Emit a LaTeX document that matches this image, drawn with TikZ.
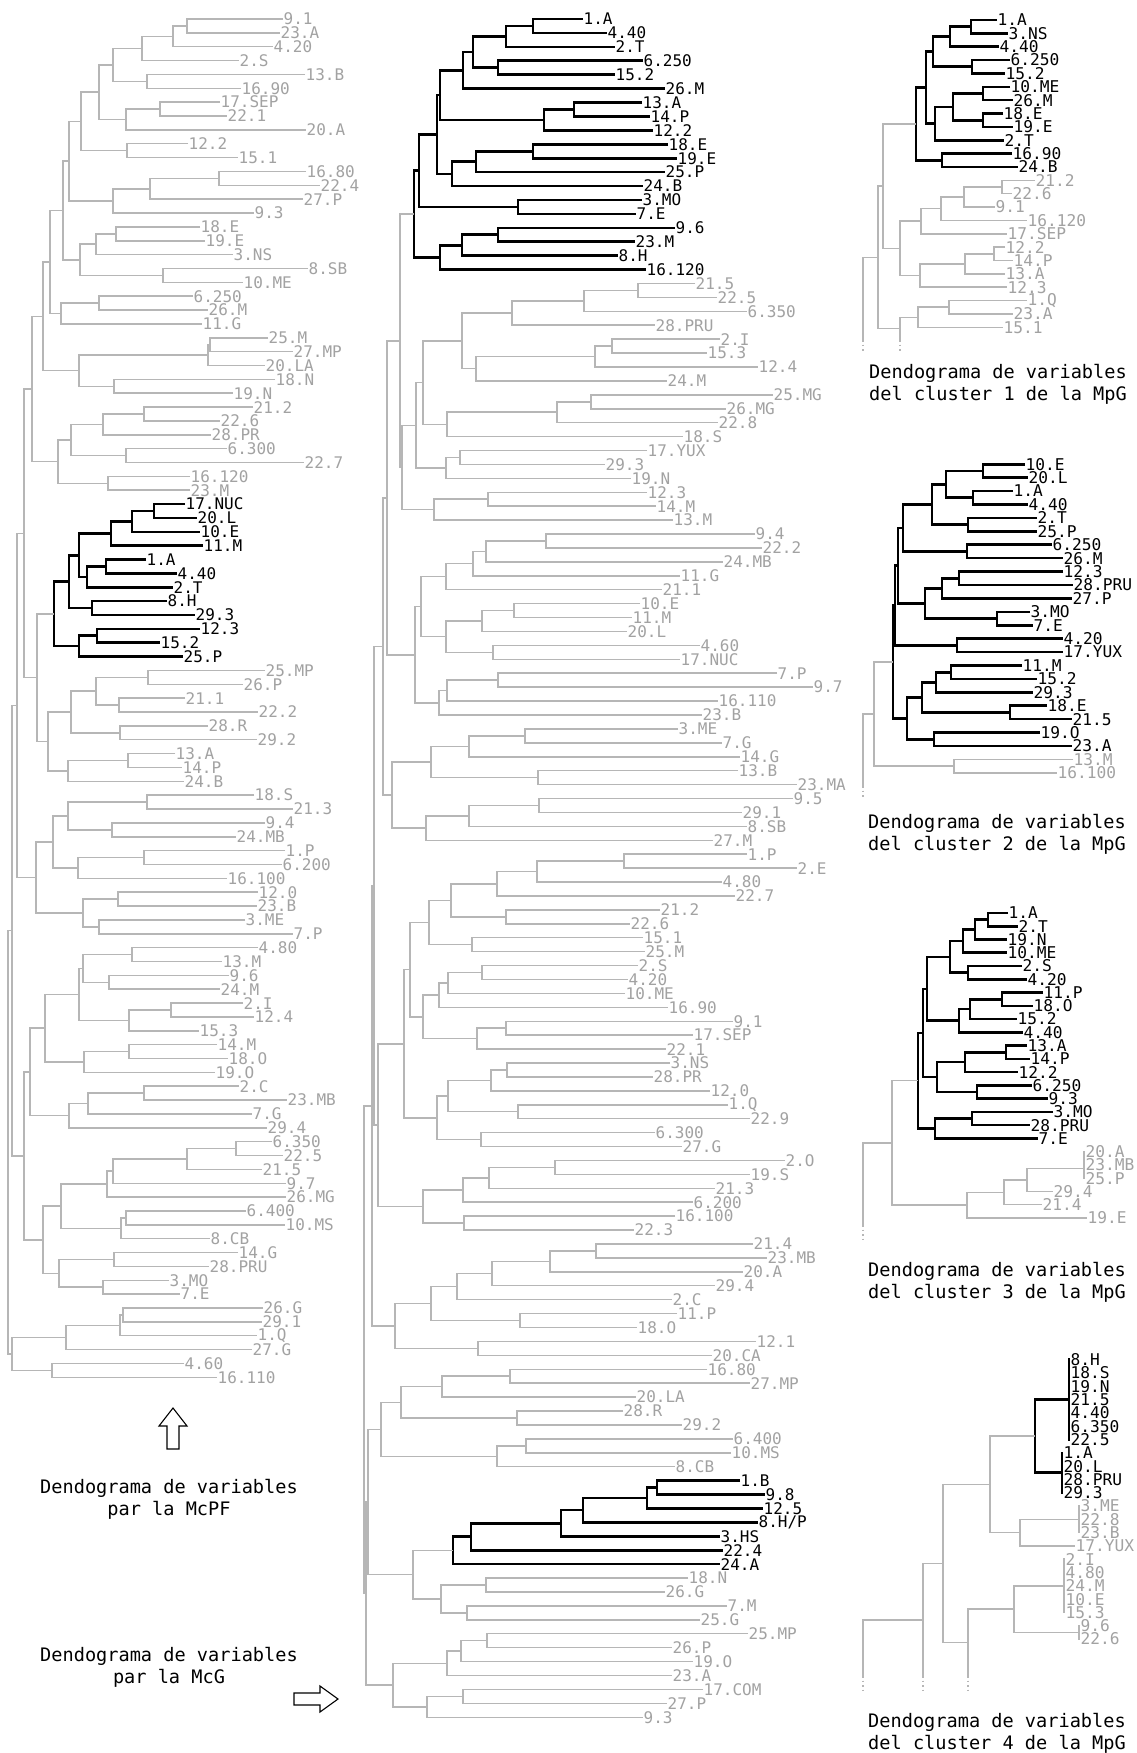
\documentclass[tikz,border=0pt]{standalone}
\usepackage{fontspec}
\newfontfamily\dmono{DejaVu Sans Mono}
\usepackage{tikz}
\definecolor{LineG}{RGB}{182,182,182}
\definecolor{TextG}{RGB}{162,162,162}
\newcommand{\labfont}{\dmono\fontsize{16}{16}\selectfont}
\newcommand{\smlfont}{\dmono\fontsize{16.2}{16}\selectfont}
\newcommand{\capfont}{\dmono\fontsize{18.6}{22}\selectfont}
% leaf: coordinate at the end of its branch, label to its right
\newcommand{\dleaf}[5][gtxt]{%
  \coordinate (#2#3) at ({#4},{\ybase+(#3-1)*\ystep});
  \node[#1] (#2#3t) at (#2#3) {#5};}
% merge two branches at abscissa #3
\newcommand{\dmerge}[5][gline]{%
  \path (#4) -- (#5) coordinate[pos=.5] (mtmp);
  \coordinate (#2) at (#3,0 |- mtmp);
  \draw[#1] (#4) -- (#4 -| #2) -- (#5 -| #2) -- (#5);}

\begin{document}
\begin{tikzpicture}[x=1pt,y=-1pt,
  gline/.style={draw=LineG,line width=1.5pt},
  bline/.style={draw=black,line width=2.6pt},
  gtxt/.style={anchor=west,inner sep=0.5pt,text=TextG,font=\labfont},
  btxt/.style={gtxt,text=black},
  capt/.style={align=center,inner sep=0pt,font=\capfont},
  hollow/.style={draw=black,line width=1.1pt,line join=miter},
  cut/.style={gline,dash pattern=on 1.5pt off 3pt}]
\fill[white] (0,0) rectangle (1136,1753);
\path[use as bounding box] (0,0) rectangle (1136,1753);

% ---- dendrogram McPF (left)
\def\ybase{19}\def\ystep{13.86}
\foreach \ii/\xx/\lab in {1/283/9.1, 2/280/23.A, 3/273/4.20, 4/239/2.S, 5/305/13.B,
  6/241/16.90, 7/220/17.SEP, 8/227/22.1, 9/306/20.A, 10/188/12.2, 11/238/15.1,
  12/306/16.80, 13/320/22.4, 14/303/27.P, 15/254/9.3, 16/200/18.E, 17/205/19.E,
  18/233/3.NS, 19/308/8.SB, 20/243/10.ME, 21/193/6.250, 22/208/26.M, 23/202/11.G,
  24/268/25.M, 25/293/27.MP, 26/265/20.LA, 27/275/18.N, 28/233/19.N, 29/253/21.2,
  30/220/22.6, 31/211/28.PR, 32/227/6.300, 33/304/22.7, 34/190/16.120, 35/190/23.M,
  48/265/25.MP, 49/243/26.P, 50/185/21.1, 51/258/22.2, 52/208/28.R, 53/257/29.2,
  54/175/13.A, 55/182/14.P, 56/184/24.B, 57/254/18.S, 58/293/21.3, 59/265/9.4,
  60/236/24.MB, 61/285/1.P, 62/282/6.200, 63/227/16.100, 64/258/12.0, 65/257/23.B,
  66/245/3.ME, 67/293/7.P, 68/258/4.80, 69/222/13.M, 70/229/9.6, 71/220/24.M,
  72/243/2.I, 73/254/12.4, 74/199/15.3, 75/217/14.M, 76/228/18.O, 77/215/19.O,
  78/239/2.C, 79/287/23.MB, 80/252/7.G, 81/267/29.4, 82/272/6.350, 83/283/22.5,
  84/262/21.5, 85/286/9.7, 86/286/26.MG, 87/246/6.400, 88/285/10.MS, 89/210/8.CB,
  90/238/14.G, 91/209/28.PRU, 92/169/3.MO, 93/180/7.E, 94/263/26.G, 95/262/29.1,
  96/257/1.Q, 97/252/27.G, 98/184/4.60, 99/217/16.110}
  {\dleaf{l}{\ii}{\xx}{\lab}}
\foreach \ii/\xx/\lab in {36/185/17.NUC, 37/197/20.L, 38/200/10.E, 39/203/11.M,
  40/146/1.A, 41/177/4.40, 42/173/2.T, 43/167/8.H, 44/195/29.3, 45/200/12.3,
  46/160/15.2, 47/183/25.P}
  {\dleaf[btxt]{l}{\ii}{\xx}{\lab}}
\foreach \nm/\xx/\ca/\cb in {la1/187/l1/l2, la2/173/la1/l3, la3/142/la2/l4,
  la4/147/l5/l6, la5/113/la3/la4, la6/160/l7/l8, la7/126/la6/l9, la8/99/la5/la7,
  la9/127/l10/l11, la10/81/la8/la9, la11/219/l12/l13, la12/150/la11/l14,
  la13/113/la12/l15, la14/69/la10/la13, la15/116/l16/l17, la16/96/la15/l18,
  la17/163/l19/l20, la18/80/la16/la17, la19/63/la14/la18, la20/99/l21/l22,
  la21/61/la20/l23, la22/50/la19/la21, la23/210/l24/l25, la24/208/la23/l26,
  la25/114/l27/l28, la26/79/la24/la25, la27/43/la22/la26, la28/144/l29/l30,
  la29/103/la28/l31, la30/126/l32/l33, la31/71/la29/la30, la32/108/l34/l35,
  la33/58/la31/la32, la34/32/la27/la33}
  {\dmerge{\nm}{\xx}{\ca}{\cb}}
\foreach \nm/\xx/\ca/\cb in {lb1/154/l36/l37, lb2/132/lb1/l38, lb3/111/lb2/l39,
  lb4/106/l40/l41, lb5/87/lb4/l42, lb6/79/lb3/lb5, lb7/92/l43/l44, lb8/69/lb6/lb7,
  lb9/97/l45/l46, lb10/79/lb9/l47, lb11/54/lb8/lb10}
  {\dmerge[bline]{\nm}{\xx}{\ca}{\cb}}
\foreach \nm/\xx/\ca/\cb in {lc1/148/l48/l49, lc2/119/l50/l51, lc3/96/lc1/lc2,
  lc4/120/l52/l53, lc5/71/lc3/lc4, lc6/128/l54/l55, lc7/68/lc6/l56, lc8/48/lc5/lc7,
  lc9/37/lb11/lc8, ld1/24/la34/lc9, lc10/147/l57/l58, lc11/112/l59/l60,
  lc12/68/lc10/lc11, lc13/144/l61/l62, lc14/78/lc13/l63, lc15/53/lc12/lc14,
  lc16/118/l64/l65, lc17/99/l66/l67, lc18/83/lc16/lc17, lc19/36/lc15/lc18,
  ld2/17/ld1/lc19, le1/132/l68/l69, le2/109/l70/l71, le3/83/le1/le2,
  le4/171/l72/l73, le5/129/le4/l74, le6/79/le3/le5, le7/129/l75/l76,
  le8/84/le7/l77, le9/45/le6/le8, le10/144/l78/l79, le11/88/le10/l80,
  le12/69/le11/l81, le13/30/le9/le12, le14/236/l82/l83, le15/187/le14/l84,
  le16/113/le15/l85, le17/107/le16/l86, le18/126/l87/l88, le19/121/le18/l89,
  le20/61/le17/le19, le21/114/l90/l91, le22/103/l92/l93, le23/59/le21/le22,
  le24/43/le20/le23, le25/24/le13/le24, ld3/12/ld2/le25, lf1/123/l94/l95,
  lf2/120/lf1/l96, lf3/66/lf2/l97, lf4/52/l98/l99, lf5/12/lf3/lf4, ld4/8/ld3/lf5}
  {\dmerge{\nm}{\xx}{\ca}{\cb}}

% ---- dendrogram McG (middle)
\def\ybase{19}\def\ystep{13.92}
\foreach \ii/\xx/\lab in {1/583/1.A, 2/607/4.40, 3/615/2.T, 4/643/6.250, 5/615/15.2,
  6/665/26.M, 7/642/13.A, 8/650/14.P, 9/653/12.2, 10/668/18.E, 11/677/19.E,
  12/665/25.P, 13/643/24.B, 14/642/3.MO, 15/636/7.E, 16/675/9.6, 17/635/23.M,
  18/618/8.H, 19/646/16.120, 106/740/1.B, 107/765/9.8, 108/763/12.5,
  110/720/3.HS, 111/723/22.4, 112/720/24.A}
  {\dleaf[btxt]{m}{\ii}{\xx}{\lab}}
\dleaf[btxt]{m}{109}{758}{8.H/P}
\foreach \ii/\xx/\lab in {20/695/21.5, 21/717/22.5, 22/747/6.350, 23/655/28.PRU,
  24/720/2.I, 25/707/15.3, 26/758/12.4, 27/667/24.M, 28/773/25.MG, 29/726/26.MG,
  30/718/22.8, 31/683/18.S, 32/647/17.YUX, 33/605/29.3, 34/631/19.N, 35/647/12.3,
  36/656/14.M, 37/673/13.M, 38/755/9.4, 39/762/22.2, 40/723/24.MB, 41/680/11.G,
  42/662/21.1, 43/640/10.E, 44/632/11.M, 45/627/20.L, 46/700/4.60, 47/680/17.NUC,
  48/777/7.P, 49/813/9.7, 50/718/16.110, 51/702/23.B, 52/678/3.ME, 53/722/7.G,
  54/740/14.G, 55/738/13.B, 56/797/23.MA, 57/793/9.5, 58/742/29.1, 59/747/8.SB,
  60/713/27.M, 61/747/1.P, 62/797/2.E, 63/722/4.80, 64/735/22.7, 65/660/21.2,
  66/630/22.6, 67/643/15.1, 68/645/25.M, 69/638/2.S, 70/628/4.20, 71/625/10.ME,
  72/668/16.90, 73/733/9.1, 74/693/17.SEP, 75/666/22.1, 76/670/3.NS, 77/653/28.PR,
  78/710/12.0, 79/728/1.Q, 80/750/22.9, 81/655/6.300, 82/682/27.G, 83/785/2.O,
  84/750/19.S, 85/715/21.3, 86/693/6.200, 87/675/16.100, 88/634/22.3, 89/753/21.4,
  90/767/23.MB, 91/743/20.A, 92/715/29.4, 93/672/2.C, 94/677/11.P, 95/637/18.O,
  96/756/12.1, 97/712/20.CA, 98/707/16.80, 99/750/27.MP, 100/636/20.LA,
  101/623/28.R, 102/682/29.2, 103/733/6.400, 104/731/10.MS, 105/675/8.CB,
  113/688/18.N, 114/665/26.G, 115/727/7.M, 116/700/25.G, 117/748/25.MP,
  118/672/26.P, 119/693/19.O, 120/672/23.A, 121/703/17.COM, 122/667/27.P,
  123/643/9.3}
  {\dleaf{m}{\ii}{\xx}{\lab}}
\foreach \nm/\xx/\ca/\cb in {ma1/533/m1/m2, ma2/506/ma1/m3, ma3/498/m4/m5,
  ma4/473/ma2/ma3, ma5/463/ma4/m6, ma6/574/m7/m8, ma7/544/ma6/m9, ma8/533/m10/m11,
  ma9/476/ma8/m12, ma10/452/ma9/m13, ma11/440/ma5/ma7, ma12/437/ma11/ma10,
  ma13/518/m14/m15, ma14/419/ma12/ma13, ma15/498/m16/m17, ma16/462/ma15/m18,
  ma17/440/ma16/m19, ma18/414/ma14/ma17}
  {\dmerge[bline]{\nm}{\xx}{\ca}{\cb}}
\foreach \nm/\xx/\ca/\cb in {mb1/638/m20/m21, mb2/584/mb1/m22, mb3/512/mb2/m23,
  mb4/612/m24/m25, mb5/595/mb4/m26, mb6/476/mb5/m27, mb7/462/mb3/mb6,
  mb8/591/m28/m29, mb9/557/mb8/m30, mb10/447/mb9/m31, mb11/423/mb7/mb10,
  mb12/460/m32/m33, mb13/446/mb12/m34, mb14/416/mb11/mb13, mb15/488/m35/m36,
  mb16/434/mb15/m37, mb17/402/mb14/mb16, mc1/400/ma18/mb17, mc2/546/m38/m39,
  mc3/486/mc2/m40, mc4/473/mc3/m41, mc5/446/mc4/m42, mc6/514/m43/m44,
  mc7/482/mc6/m45, mc8/493/m46/m47, mc9/446/mc7/mc8, mc10/421/mc5/mc9,
  mc11/498/m48/m49, mc12/447/mc11/m50, mc13/439/mc12/m51, mc14/415/mc10/mc13,
  md1/387/mc1/mc14, mc15/525/m52/m53, mc16/469/mc15/m54, mc17/538/m55/m56,
  mc18/431/mc16/mc17, mc19/539/m57/m58, mc20/469/mc19/m59, mc21/426/mc20/m60,
  mc22/392/mc18/mc21, md2/383/md1/mc22, me1/624/m61/m62, me2/537/me1/m63,
  me3/497/me2/m64, me4/506/m65/m66, me5/451/me3/me4, me6/472/m67/m68,
  me7/429/me5/me6, me8/482/m69/m70, me9/448/me8/m71, me10/439/me9/m72,
  me11/506/m73/m74, me12/477/me11/m75, me13/423/me10/me12, me14/410/me7/me13,
  me15/507/m76/m77, me16/491/me15/m78, me17/518/m79/m80, me18/448/me16/me17,
  me19/481/m81/m82, me20/437/me18/me19, me21/404/me14/me20, me22/555/m83/m84,
  me23/489/me22/m85, me24/463/me23/m86, me25/464/m87/m88, me26/423/me24/me25,
  me27/378/me21/me26, md3/374/md2/me27, mf1/596/m89/m90, mf2/550/mf1/m91,
  mf3/492/mf2/m92, mf4/457/mf3/m93, mf5/520/m94/m95, mf6/431/mf4/mf5,
  mf7/478/m96/m97, mf8/395/mf6/mf7, md4/372/md3/mf8, mg1/510/m98/m99,
  mg2/442/mg1/m100, mg3/517/m101/m102, mg4/401/mg2/mg3, mg5/526/m103/m104,
  mg6/497/mg5/m105, mg7/381/mg4/mg6}
  {\dmerge{\nm}{\xx}{\ca}{\cb}}
\foreach \nm/\xx/\ca/\cb in {mh1/657/m106/m107, mh2/647/mh1/m108, mh3/583/mh2/m109,
  mh4/561/mh3/m110, mh5/471/mh4/m111, mh6/453/mh5/m112}
  {\dmerge[bline]{\nm}{\xx}{\ca}{\cb}}
\foreach \nm/\xx/\ca/\cb in {mi1/486/m113/m114, mi2/467/m115/m116, mi3/441/mi1/mi2,
  mi4/413/mh6/mi3, mg8/368/mg7/mi4, mj1/487/m117/m118, mj2/461/mj1/m119,
  mj3/447/mj2/m120, mj4/463/m121/m122, mj5/427/mj4/m123, mj6/393/mj3/mj5,
  mg9/366/mg8/mj6, md5/364/md4/mg9}
  {\dmerge{\nm}{\xx}{\ca}{\cb}}

% ---- cluster dendrograms MpG (right)
\begin{scope}[gtxt/.append style={font=\smlfont}]
% cluster 1
\def\ybase{20}\def\ystep{13.36}
\foreach \ii/\xx/\lab in {1/997/1.A, 2/1008/3.NS, 3/999/4.40, 4/1010/6.250,
  5/1005/15.2, 6/1010/10.ME, 7/1013/26.M, 8/1003/18.E, 9/1013/19.E, 10/1004/2.T,
  11/1012/16.90, 12/1018/24.B}
  {\dleaf[btxt]{p}{\ii}{\xx}{\lab}}
\foreach \ii/\xx/\lab in {13/1035/21.2, 14/1012/22.6, 15/995/9.1, 16/1027/16.120,
  17/1007/17.SEP, 18/1005/12.2, 19/1013/14.P, 20/1005/13.A, 21/1007/12.3,
  22/1027/1.Q, 23/1013/23.A, 24/1003/15.1}
  {\dleaf{p}{\ii}{\xx}{\lab}}
\foreach \nm/\xx/\ca/\cb in {pa1/971/p1/p2, pa2/950/pa1/p3, pa3/972/p4/p5,
  pa4/933/pa2/pa3, pa5/983/p6/p7, pa6/983/p8/p9, pa7/953/pa5/pa6,
  pa8/935/pa7/p10, pa9/926/pa4/pa8, pa10/942/p11/p12, pa11/916/pa9/pa10}
  {\dmerge[bline]{\nm}{\xx}{\ca}{\cb}}
\coordinate (ps1) at (900,340);
\coordinate (ps2) at (863,340);
\foreach \nm/\xx/\ca/\cb in {pb1/1002/p13/p14, pb2/964/pb1/p15, pb3/941/pb2/p16,
  pb4/921/pb3/p17, pb5/994/p18/p19, pb6/965/pb5/p20, pb7/920/pb6/p21,
  pb8/900/pb4/pb7, pc1/883/pa11/pb8, pb9/949/p22/p23, pb10/918/pb9/p24,
  pc2/900/pb10/ps1, pc3/878/pc1/pc2, pc4/863/pc3/ps2}
  {\dmerge{\nm}{\xx}{\ca}{\cb}}
\draw[cut] (ps1) -- (900,352);
\draw[cut] (ps2) -- (863,352);
\node[capt] (cap1) at (998,384) {Dendograma de variables\\del cluster 1 de la MpG};

% cluster 2
\def\ybase{464.2}\def\ystep{13.42}
\foreach \ii/\xx/\lab in {1/1025/10.E, 2/1028/20.L, 3/1013/1.A, 4/1028/4.40,
  5/1037/2.T, 6/1037/25.P, 7/1052/6.250, 8/1063/26.M, 9/1063/12.3, 10/1073/28.PRU,
  11/1072/27.P, 12/1030/3.MO, 13/1033/7.E, 14/1063/4.20, 15/1063/17.YUX,
  16/1022/11.M, 17/1037/15.2, 18/1033/29.3, 19/1047/18.E, 20/1072/21.5,
  21/1040/19.O, 22/1072/23.A}
  {\dleaf[btxt]{q}{\ii}{\xx}{\lab}}
\dleaf{q}{23}{1073}{13.M}
\dleaf{q}{24}{1057}{16.100}
\foreach \nm/\xx/\ca/\cb in {qa1/983/q1/q2, qa2/973/q3/q4, qa3/946/qa1/qa2,
  qa4/968/q5/q6, qa5/932/qa3/qa4, qa6/967/q7/q8, qa7/903/qa5/qa6, qa8/959/q9/q10,
  qa9/942/qa8/q11, qa10/997/q12/q13, qa11/925/qa9/qa10, qa12/898/qa7/qa11,
  qa13/957/q14/q15, qa14/895/qa12/qa13, qa15/951/q16/q17, qa16/936/qa15/q18,
  qa17/1010/q19/q20, qa18/922/qa16/qa17, qa19/934/q21/q22, qa20/907/qa18/qa19,
  qa21/893/qa14/qa20}
  {\dmerge[bline]{\nm}{\xx}{\ca}{\cb}}
\coordinate (qs1) at (863,786);
\foreach \nm/\xx/\ca/\cb in {qb1/954/q23/q24, qb2/874/qa21/qb1, qc1/863/qb2/qs1}
  {\dmerge{\nm}{\xx}{\ca}{\cb}}
\draw[cut] (qs1) -- (863,798);
\node[capt] (cap2) at (997,834) {Dendograma de variables\\del cluster 2 de la MpG};

% cluster 3
\def\ybase{913}\def\ystep{13.26}
\foreach \ii/\xx/\lab in {1/1008/1.A, 2/1018/2.T, 3/1007/19.N, 4/1007/10.ME,
  5/1022/2.S, 6/1027/4.20, 7/1043/11.P, 8/1033/18.O, 9/1017/15.2, 10/1023/4.40,
  11/1027/13.A, 12/1030/14.P, 13/1018/12.2, 14/1032/6.250, 15/1048/9.3,
  16/1053/3.MO, 17/1030/28.PRU, 18/1038/7.E}
  {\dleaf[btxt]{s}{\ii}{\xx}{\lab}}
\foreach \ii/\xx/\lab in {19/1085/20.A, 20/1085/23.MB, 21/1085/25.P, 22/1053/29.4,
  23/1042/21.4, 24/1087/19.E}
  {\dleaf{s}{\ii}{\xx}{\lab}}
\foreach \nm/\xx/\ca/\cb in {sa1/988/s1/s2, sa2/975/sa1/s3, sa3/963/sa2/s4,
  sa4/968/s5/s6, sa5/950/sa3/sa4, sa6/1002/s7/s8, sa7/970/sa6/s9, sa8/959/sa7/s10,
  sa9/927/sa5/sa8, sa10/1006/s11/s12, sa11/965/sa10/s13, sa12/977/s14/s15,
  sa13/937/sa11/sa12, sa14/923/sa9/sa13, sa15/972/s16/s17, sa16/935/sa15/s18,
  sa17/918/sa14/sa16}
  {\dmerge[bline]{\nm}{\xx}{\ca}{\cb}}
\coordinate (ss1) at (863,1225);
\foreach \nm/\xx/\ca/\cb in {sb1/1084/s19/s20, sb2/1084/sb1/s21, sb3/1027/sb2/s22,
  sb4/1004/sb3/s23, sb5/967/sb4/s24, sb6/892/sa17/sb5, sc1/863/sb6/ss1}
  {\dmerge{\nm}{\xx}{\ca}{\cb}}
\draw[cut] (ss1) -- (863,1240);
\node[capt] (cap3) at (997,1282) {Dendograma de variables\\del cluster 3 de la MpG};

% cluster 4
\def\ybase{1359.7}\def\ystep{13.3}
\foreach \ii/\xx/\lab in {1/1070/8.H, 2/1070/18.S, 3/1070/19.N, 4/1070/21.5,
  5/1070/4.40, 6/1070/6.350, 7/1070/22.5, 8/1063/1.A, 9/1063/20.L, 10/1063/28.PRU,
  11/1063/29.3}
  {\dleaf[btxt]{t}{\ii}{\xx}{\lab}}
\foreach \ii/\xx/\lab in {12/1080/3.ME, 13/1080/22.8, 14/1080/23.B, 15/1075/17.YUX,
  16/1065/2.I, 17/1065/4.80, 18/1065/24.M, 19/1065/10.E, 20/1065/15.3,
  21/1080/9.6, 22/1080/22.6}
  {\dleaf{t}{\ii}{\xx}{\lab}}
\foreach \nm/\xx/\ca/\cb in {ta1/1069/t1/t7, ta2/1062/t8/t11, ta3/1035/ta1/ta2}
  {\dmerge[bline]{\nm}{\xx}{\ca}{\cb}}
\coordinate (ts1) at (968,1676);
\coordinate (ts2) at (923,1676);
\coordinate (ts3) at (863,1676);
\foreach \nm/\xx/\ca/\cb in {tb1/1079/t12/t14, tb2/1020/tb1/t15, tb3/990/ta3/tb2,
  tc1/1064/t16/t20, tc2/1079/t21/t22, tc3/1014/tc1/tc2, tq1/968/tc3/ts1,
  tq2/943/tb3/tq1, tq3/923/tq2/ts2, tq4/863/tq3/ts3}
  {\dmerge{\nm}{\xx}{\ca}{\cb}}
\draw[cut] (ts1) -- (968,1690);
\draw[cut] (ts2) -- (923,1690);
\draw[cut] (ts3) -- (863,1690);
\node[capt] (cap4) at (997,1733) {Dendograma de variables\\del cluster 4 de la MpG};
\end{scope}

% ---- captions and pointers (left)
\node[capt] (capmcpf) at (169,1499) {Dendograma de variables\\par la McPF};
\node[capt] (capmcg) at (169,1667) {Dendograma de variables\\par la McG};
\draw[hollow] (173,1408) -- (187,1426) -- (179,1426) -- (179,1449) -- (167,1449)
  -- (167,1426) -- (159,1426) -- cycle;
\draw[hollow] (294,1693) -- (320,1693) -- (320,1686) -- (338,1699) -- (320,1712)
  -- (320,1705) -- (294,1705) -- cycle;
\end{tikzpicture}
\end{document}
